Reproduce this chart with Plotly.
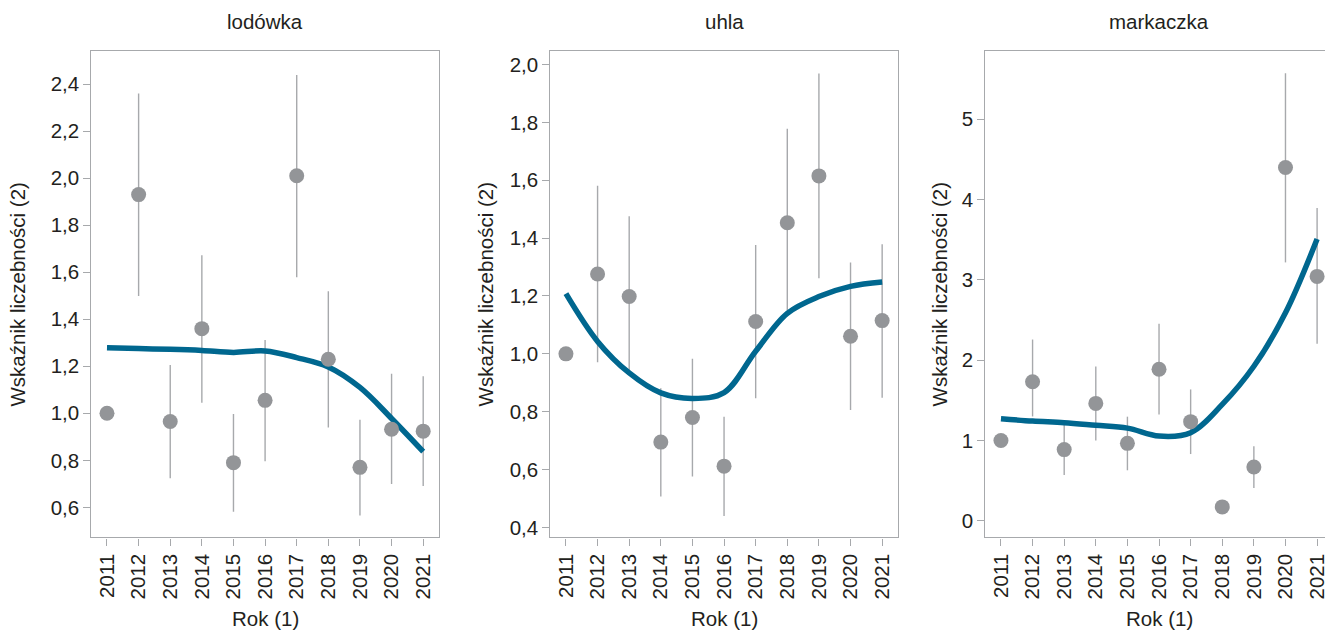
import plotly.graph_objects as go

years = [2011, 2012, 2013, 2014, 2015, 2016, 2017, 2018, 2019, 2020, 2021]
year_labels = [str(y) for y in years]

titles = ["lodówka", "uhla", "markaczka"]
y_title = "Wskaźnik liczebności (2)"
x_title = "Rok (1)"

# lodówka
lod_val = [1.00, 1.93, 0.965, 1.36, 0.79, 1.055, 2.01, 1.23, 0.77, 0.932, 0.924]
lod_up = [1.00, 2.36, 1.205, 1.672, 0.997, 1.312, 2.439, 1.519, 0.973, 1.168, 1.158]
lod_lo = [1.00, 1.499, 0.724, 1.045, 0.581, 0.796, 1.578, 0.940, 0.565, 0.699, 0.691]
lod_trend = [1.279, 1.275, 1.272, 1.267, 1.259, 1.265, 1.237, 1.197, 1.110, 0.978, 0.837]

# uhla
uhl_val = [1.00, 1.276, 1.198, 0.695, 0.780, 0.612, 1.112, 1.453, 1.615, 1.061, 1.115]
uhl_up = [1.00, 1.581, 1.476, 0.881, 0.983, 0.783, 1.376, 1.778, 1.969, 1.316, 1.379]
uhl_lo = [1.00, 0.971, 0.930, 0.507, 0.576, 0.440, 0.847, 1.150, 1.261, 0.806, 0.848]
uhl_trend = [1.208, 1.043, 0.934, 0.865, 0.846, 0.866, 1.009, 1.140, 1.198, 1.233, 1.248]

# markaczka
mar_val = [1.00, 1.731, 0.887, 1.462, 0.965, 1.888, 1.235, 0.174, 0.671, 4.398, 3.043]
mar_up = [1.00, 2.257, 1.200, 1.922, 1.297, 2.452, 1.636, 0.174, 0.928, 5.570, 3.893]
mar_lo = [1.00, 1.300, 0.571, 1.002, 0.630, 1.325, 0.832, 0.174, 0.410, 3.217, 2.204]
mar_trend = [1.272, 1.242, 1.222, 1.189, 1.155, 1.056, 1.098, 1.450, 1.925, 2.590, 3.508]

panels = [
    (lod_val, lod_up, lod_lo, lod_trend),
    (uhl_val, uhl_up, uhl_lo, uhl_trend),
    (mar_val, mar_up, mar_lo, mar_trend),
]

W, H = 1328, 632
x_domains = [[91.7 / W, 440 / W], [551.7 / W, 900 / W], [987.7 / W, 1.0]]
y_domain = [1 - 538.3 / H, 1 - 51 / H]
x_ranges = [[2010.51, 2021.5], [2010.51, 2021.5], [2010.51, 2021.25]]
y_ranges = [[0.472, 2.541], [0.3655, 2.047], [-0.206, 5.849]]
y_ticks = [
    [0.6, 0.8, 1.0, 1.2, 1.4, 1.6, 1.8, 2.0, 2.2, 2.4],
    [0.4, 0.6, 0.8, 1.0, 1.2, 1.4, 1.6, 1.8, 2.0],
    [0, 1, 2, 3, 4, 5],
]
y_formats = [".1f", ".1f", "d"]
title_centers = [265.9, 725.9, 1161.7]
ytitle_x = [18, 487, 942]

LINE = "#00678f"
MARK = "#939598"
ERR = "#a7a9ac"
FRAME = "#a7a9ac"
TEXT = "#231f20"
FONT = "Liberation Sans, Arial, sans-serif"
FS = 20.5

fig = go.Figure()
for i, (val, up, lo, trend) in enumerate(panels):
    xa = "x" if i == 0 else f"x{i+1}"
    ya = "y" if i == 0 else f"y{i+1}"
    plus = [u - v for u, v in zip(up, val)]
    minus = [v - l for v, l in zip(val, lo)]
    fig.add_trace(go.Scatter(
        x=years, y=val, mode="markers", xaxis=xa, yaxis=ya,
        marker=dict(size=15, color=MARK, opacity=0),
        error_y=dict(type="data", array=plus, arrayminus=minus, symmetric=False,
                     color=ERR, thickness=1.4, width=0),
        showlegend=False, hoverinfo="skip",
    ))
    fig.add_trace(go.Scatter(
        x=years, y=trend, mode="lines", xaxis=xa, yaxis=ya,
        line=dict(color=LINE, width=5.5, shape="spline", smoothing=1.0),
        showlegend=False,
    ))
    fig.add_trace(go.Scatter(
        x=years, y=val, mode="markers", xaxis=xa, yaxis=ya,
        marker=dict(size=15, color=MARK, line=dict(width=0)),
        showlegend=False,
    ))

layout = dict(
    width=W, height=H,
    margin=dict(l=0, r=0, t=0, b=0),
    paper_bgcolor="white", plot_bgcolor="white",
    separators=", ",
    font=dict(family=FONT, size=FS, color=TEXT),
    showlegend=False,
)
for i in range(3):
    xk = "xaxis" if i == 0 else f"xaxis{i+1}"
    yk = "yaxis" if i == 0 else f"yaxis{i+1}"
    ya = "y" if i == 0 else f"y{i+1}"
    xa = "x" if i == 0 else f"x{i+1}"
    layout[xk] = dict(
        domain=x_domains[i], range=x_ranges[i], anchor=ya,
        tickmode="array", tickvals=years, ticktext=year_labels, tickangle=-90,
        showline=True, linecolor=FRAME, linewidth=1.4, mirror=True,
        ticks="outside", ticklen=7, tickwidth=1.3, tickcolor=FRAME,
        showgrid=False, zeroline=False, ticklabeloverflow="allow",
        tickfont=dict(family=FONT, size=FS, color=TEXT),
    )
    layout[yk] = dict(
        domain=y_domain, range=y_ranges[i], anchor=xa,
        tickmode="array", tickvals=y_ticks[i], tickformat=y_formats[i],
        showline=True, linecolor=FRAME, linewidth=1.4, mirror=(i < 2),
        ticks="outside", ticklen=7, tickwidth=1.3, tickcolor=FRAME,
        showgrid=False, zeroline=False,
        tickfont=dict(family=FONT, size=FS, color=TEXT),
    )
fig.update_layout(**layout)

for i in range(3):
    fig.add_annotation(text=titles[i], xref="paper", yref="paper",
                       x=title_centers[i] / W, y=1 - 22 / H, showarrow=False,
                       xanchor="center", yanchor="middle",
                       font=dict(family=FONT, size=FS, color=TEXT))
    fig.add_annotation(text=x_title, xref="paper", yref="paper",
                       x=title_centers[i] / W, y=1 - 619 / H, showarrow=False,
                       xanchor="center", yanchor="middle",
                       font=dict(family=FONT, size=FS, color=TEXT))
    fig.add_annotation(text=y_title, xref="paper", yref="paper",
                       x=ytitle_x[i] / W, y=1 - 295 / H, showarrow=False,
                       textangle=-90, xanchor="center", yanchor="middle",
                       font=dict(family=FONT, size=FS, color=TEXT))

fig.write_html("out.html")
